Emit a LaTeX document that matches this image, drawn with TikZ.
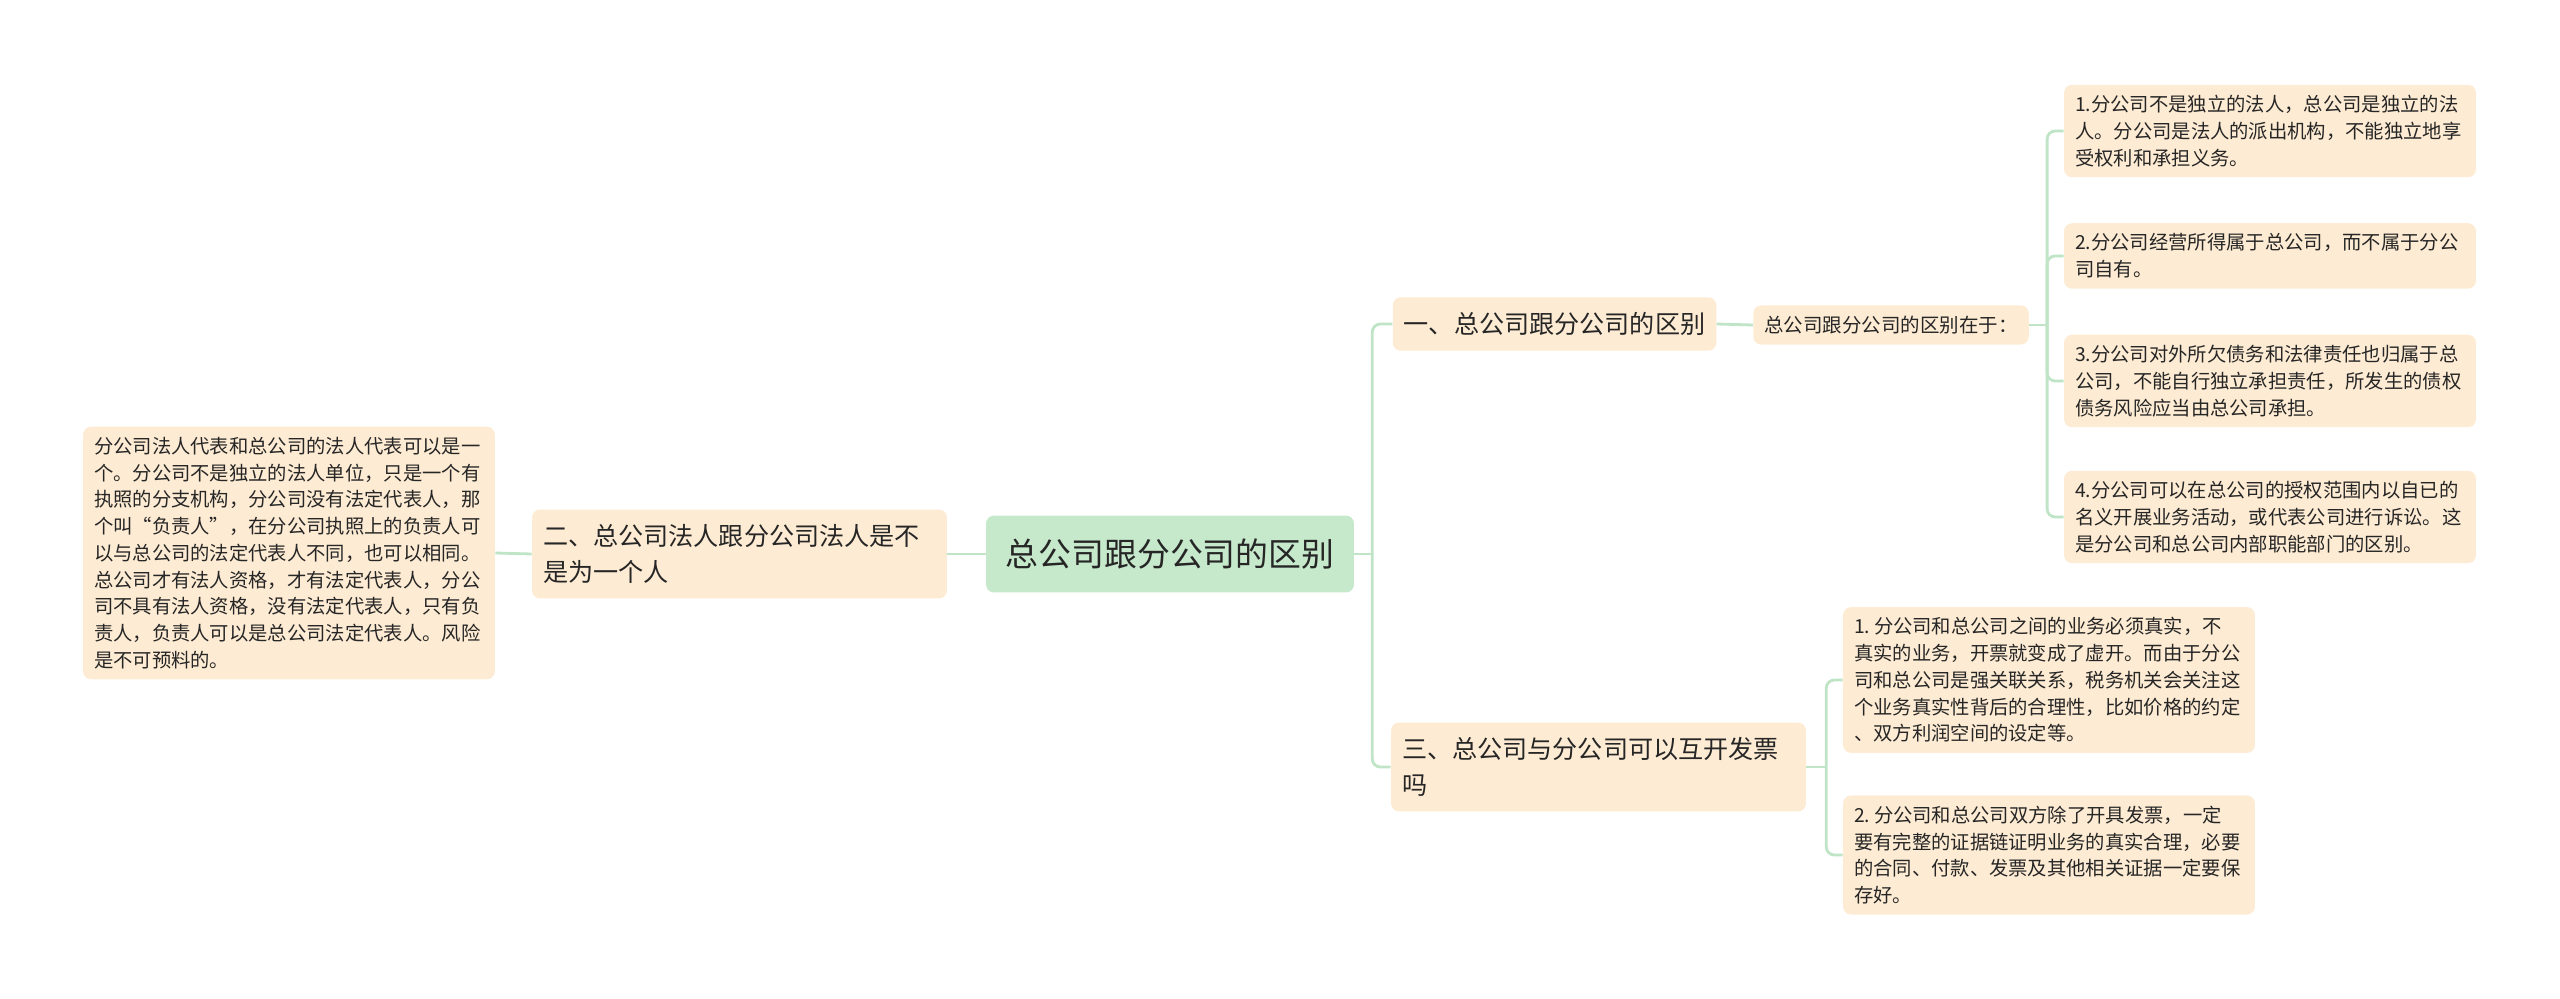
\documentclass[tikz,border=0pt]{standalone}
\usepackage{fontspec}
\newfontfamily\cjk{Noto Sans CJK SC}
\usepackage{xcolor}
\usepackage{tikz}
\definecolor{peach}{HTML}{FDEBD3}
\definecolor{mint}{HTML}{C6E9CB}
\definecolor{stem}{HTML}{BFE4C6}
\definecolor{ink}{HTML}{262626}

\begin{document}
\begin{tikzpicture}[x=0.02cm,y=-0.02cm,
    box/.style={rounded corners=0.16cm,fill=peach,text=ink,inner xsep=0.22cm},
    hub/.style={box,fill=mint,minimum width=7.36cm,minimum height=1.54cm,font=\cjk\fontsize{18.7}{22}\selectfont},
    topic/.style={box,inner ysep=0.3cm,align=left,font=\cjk\fontsize{14.3}{20.4}\selectfont},
    wide/.style={topic,text width=7.86cm},
    sub/.style={box,inner ysep=0.21cm,font=\cjk\fontsize{11.1}{15}\selectfont},
    leaf/.style={box,inner ysep=0.21cm,text width=7.8cm,align=left,font=\cjk\fontsize{11}{15.2}\selectfont},
    link/.style={draw=stem,line width=1.6pt,rounded corners=0.16cm}]
  \useasboundingbox (0,0) rectangle (2560,999);

  \node[hub] (hub) at (1170,554) {总公司跟分公司的区别};

  \node[wide] (two) at (739.5,554) {二、总公司法人跟分公司法人是不\\是为一个人};
  \node[leaf] (two1) at (289,553) {分公司法人代表和总公司的法人代表可以是一\\个。分公司不是独立的法人单位，只是一个有\\执照的分支机构，分公司没有法定代表人，那\\个叫“负责人”，在分公司执照上的负责人可\\以与总公司的法定代表人不同，也可以相同。\\总公司才有法人资格，才有法定代表人，分公\\司不具有法人资格，没有法定代表人，只有负\\责人，负责人可以是总公司法定代表人。风险\\是不可预料的。};

  \node[topic] (one) at (1554.5,324) {一、总公司跟分公司的区别};
  \node[sub] (one0) at (1891,325) {总公司跟分公司的区别在于：};
  \node[leaf] (one1) at (2270,131) {1.分公司不是独立的法人，总公司是独立的法\\人。分公司是法人的派出机构，不能独立地享\\受权利和承担义务。};
  \node[leaf] (one2) at (2270,256) {2.分公司经营所得属于总公司，而不属于分公\\司自有。};
  \node[leaf] (one3) at (2270,381) {3.分公司对外所欠债务和法律责任也归属于总\\公司，不能自行独立承担责任，所发生的债权\\债务风险应当由总公司承担。};
  \node[leaf] (one4) at (2270,517) {4.分公司可以在总公司的授权范围内以自已的\\名义开展业务活动，或代表公司进行诉讼。这\\是分公司和总公司内部职能部门的区别。};

  \node[wide] (three) at (1598.5,767) {三、总公司与分公司可以互开发票\\吗};
  \node[leaf] (three1) at (2049,680) {1.\hspace{0.2em}分公司和总公司之间的业务必须真实，不\\真实的业务，开票就变成了虚开。而由于分公\\司和总公司是强关联关系，税务机关会关注这\\个业务真实性背后的合理性，比如价格的约定\\、双方利润空间的设定等。};
  \node[leaf] (three2) at (2049,855) {2.\hspace{0.2em}分公司和总公司双方除了开具发票，一定\\要有完整的证据链证明业务的真实合理，必要\\的合同、付款、发票及其他相关证据一定要保\\存好。};

  \draw[link] (hub.west) -- (two.east);
  \draw[link] (two.west) -- (two1.east);

  \coordinate (hubR) at ([xshift=0.36cm]hub.east);
  \draw[link] (hub.east) -- (hubR);
  \draw[link] (hubR) |- (one.west);
  \draw[link] (hubR) |- (three.west);

  \draw[link] (one.east) -- (one0.west);
  \coordinate (oneR) at ([xshift=0.36cm]one0.east);
  \draw[link] (one0.east) -- (oneR);
  \foreach \k in {1,...,4}
    \draw[link] (oneR) |- (one\k.west);

  \coordinate (threeR) at ([xshift=0.4cm]three.east);
  \draw[link] (three.east) -- (threeR);
  \foreach \k in {1,2}
    \draw[link] (threeR) |- (three\k.west);
\end{tikzpicture}
\end{document}
